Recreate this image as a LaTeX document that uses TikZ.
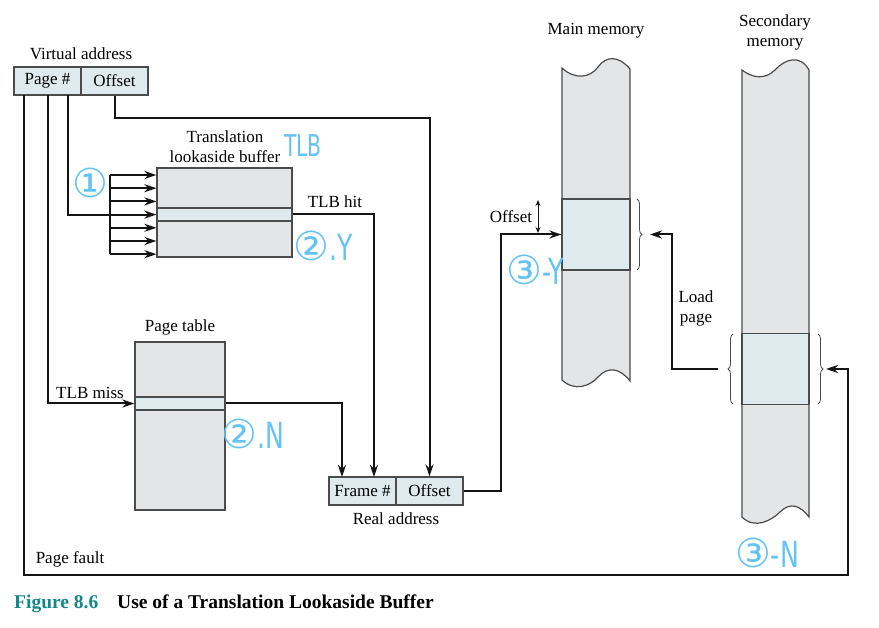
\documentclass[tikz,border=0pt]{standalone}
\usepackage{fontspec}
\setmainfont{Liberation Serif}
\newfontfamily\handfont{DejaVu Sans}
\usetikzlibrary{arrows.meta,decorations.pathreplacing}
\definecolor{memgray}{RGB}{228,229,231}
\definecolor{rowblue}{RGB}{222,234,238}
\definecolor{edgegray}{RGB}{75,75,75}
\definecolor{linegray}{RGB}{20,20,20}
\definecolor{penblue}{RGB}{100,195,245}
\definecolor{figteal}{RGB}{20,135,135}
\tikzset{
  addrbox/.style={draw=edgegray, fill=rowblue, line width=1.2pt, minimum height=28pt,
    minimum width=67pt, inner sep=0pt, font=\fontsize{17}{20}\selectfont},
  tblbox/.style={draw=edgegray, fill=memgray, line width=1.2pt, inner sep=0pt},
  rowbox/.style={draw=edgegray, fill=rowblue, line width=1.2pt, inner sep=0pt, minimum height=13pt},
  link/.style={draw=linegray, line width=2pt},
  arr/.style={link, -{Stealth[length=12pt,width=8pt]}},
  lbl/.style={font=\fontsize{17}{20}\selectfont, align=center, inner sep=0pt},
  pen/.style={text=penblue, font=\handfont\fontsize{30}{32}\selectfont, inner sep=0pt},
  curly/.style={draw=edgegray, line width=0.8pt, decorate, decoration={brace, amplitude=5pt}}
}
\newcommand{\ring}[1]{{\fontsize{40}{40}\selectfont#1}}
\newcommand{\scrawl}[1]{{\fontsize{36}{36}\selectfont\scalebox{0.7}[1]{#1}}}
\begin{document}
\begin{tikzpicture}[x=1pt, y=-1pt]
  \useasboundingbox (0,0) rectangle (879,628);

  % Virtual address
  \node[addrbox] (vpage) at (47.5,81) {Page \#};
  \node[addrbox] (voff) at (114.5,81) {Offset};
  \node[lbl] (vlabel) at (81,54) {Virtual address};

  % TLB
  \node[tblbox, minimum width=135pt, minimum height=89pt] (tlb) at (224.5,212.5) {};
  \node[rowbox, minimum width=135pt] (tlbrow) at (224.5,214.5) {};
  \node[lbl] (tlblabel) at (225,147) {Translation\\lookaside buffer};

  % Page table
  \node[tblbox, minimum width=90pt, minimum height=168pt] (ptab) at (180,426) {};
  \node[rowbox, minimum width=90pt] (prow) at (180,403.5) {};
  \node[lbl] (plabel) at (180,327) {Page table};

  % Real address
  \node[addrbox] (rframe) at (362.5,491) {Frame \#};
  \node[addrbox] (roff) at (429.5,491) {Offset};
  \node[lbl] (rlabel) at (396,519) {Real address};

  % Main memory
  \filldraw[draw=edgegray, fill=memgray, line width=1.2pt]
    (562,68) .. controls (575,80) and (590,78) .. (598,67)
    .. controls (606,56) and (618,55) .. (630,69) -- (630,381)
    .. controls (620,368) and (608,366) .. (598,377)
    .. controls (590,386) and (575,392) .. (562,380) -- cycle;
  \node[rowbox, minimum width=68pt, minimum height=71pt] (mblk) at (596,234.5) {};
  \node[lbl] (mlabel) at (596,31) {Main memory};

  % Secondary memory
  \filldraw[draw=edgegray, fill=memgray, line width=1.2pt]
    (742,70) .. controls (752,78) and (765,80) .. (775,70)
    .. controls (785,59) and (800,54) .. (809,70) -- (809,517)
    .. controls (800,505) and (790,502) .. (780,512)
    .. controls (772,520) and (755,530) .. (742,517) -- cycle;
  \node[rowbox, minimum width=67pt, minimum height=71pt] (sblk) at (775.5,369) {};
  \node[lbl] (slabel) at (775,32) {Secondary\\memory};

  % Braces
  \draw[curly] (637,199) -- (637,270);
  \draw[curly] (733,404) -- (733,334);
  \draw[curly] (818,334) -- (818,404);

  % Coordinates
  \coordinate (pg1) at (24,95);
  \coordinate (pg2) at (48,95);
  \coordinate (pg3) at (68,95);
  \coordinate (offturn) at (300,118);
  \coordinate (fhit) at (374,477);
  \coordinate (fmiss) at (342,477);
  \coordinate (pfturn) at (848,575);
  \coordinate (sright) at (826,369);
  \coordinate (rturn) at (501,300);
  \coordinate (otop) at (538,200);
  \coordinate (obot) at (538,233);
  \coordinate (sleft) at (718,369);
  \coordinate (lturn) at (672,300);
  \coordinate (mright) at (650,234.5);
  \foreach \i in {0,...,6}
    \coordinate (fan\i) at (110,{175+13.2*\i});

  % Drawing
  \draw[arr] (voff.south) |- (offturn) -| (roff.north);
  \draw[link] (pg3) |- (fan3);
  \draw[link] (fan0) -- (fan6);
  \foreach \i in {0,...,6}
    \draw[arr] (fan\i) -- (fan\i -| tlb.west);
  \draw[arr] (tlbrow.east) -| (fhit);
  \draw[arr] (pg2) |- (prow.west);
  \draw[arr] (prow.east) -| (fmiss);
  \draw[arr] (pg1) |- (pfturn) |- (sright);
  \draw[arr] (roff.east) -| (rturn) |- (mblk.west);
  \draw[arr] (sleft) -| (lturn) |- (mright);
  \draw[draw=linegray, line width=1pt, {Stealth[length=6pt,width=5pt]}-{Stealth[length=6pt,width=5pt]}] (otop) -- (obot);

  % Labels
  \node[lbl] (hitlbl) at (335,202) {TLB hit};
  \node[lbl] (misslbl) at (90,393) {TLB miss};
  \node[lbl] (faultlbl) at (70,559) {Page fault};
  \node[lbl] (olbl) at (511,217) {Offset};
  \node[lbl] (loadlbl) at (696,308) {Load\\page};

  % Pen notes
  \node[pen] (note1) at (90,183) {\ring{①}};
  \node[pen] (notetlb) at (303,146) {\scalebox{0.68}[1]{TLB}};
  \node[pen] (note2y) at (323,246) {\ring{②}\scrawl{.Y}};
  \node[pen] (note2n) at (253,434) {\ring{②}\scrawl{.N}};
  \node[pen] (note3y) at (535,270) {\ring{③}\scrawl{-Y}};
  \node[pen] (note3n) at (767,553) {\ring{③}\scrawl{-N}};

  % Caption
  \node[anchor=base west, inner sep=0pt, text=figteal,
    font=\bfseries\fontsize{19.5}{22}\selectfont] (fignum) at (14,608) {Figure 8.6};
  \node[anchor=base west, inner sep=0pt,
    font=\bfseries\fontsize{19.5}{22}\selectfont] (figtitle) at (117,608) {Use of a Translation Lookaside Buffer};
\end{tikzpicture}
\end{document}
